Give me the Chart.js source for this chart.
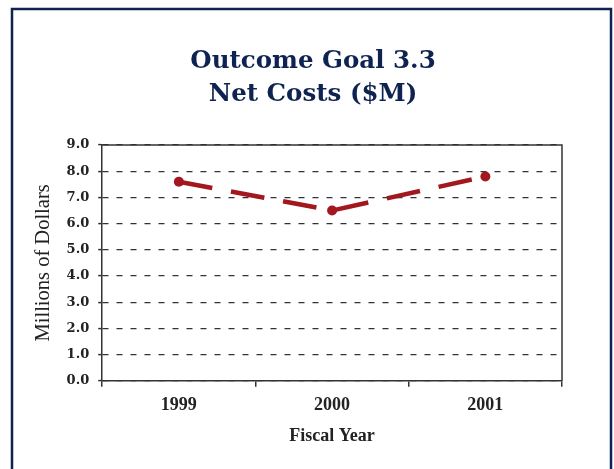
<!DOCTYPE html>
<html>
<head>
<meta charset="utf-8">
<script src="https://cdn.jsdelivr.net/npm/chart.js@4/dist/chart.umd.min.js"></script>
<style>
  html, body { margin: 0; padding: 0; background: #fff; }
  #wrap { width: 614px; height: 469px; }
</style>
</head>
<body>
<div id="wrap"><canvas id="chart" width="614" height="469"></canvas></div>
<script>
// Outcome Goal 3.3 — Net Costs ($M)

const YEARS = ['1999', '2000', '2001'];
const NET_COSTS = [7.6, 6.5, 7.8];
const Y_TICKS = [0, 1, 2, 3, 4, 5, 6, 7, 8, 9];
const TITLE_LINES = ['Outcome Goal 3.3', 'Net Costs ($M)'];

const SERIF = '"Liberation Serif", "Times New Roman", serif';
const WIDE_SERIF = '"DejaVu Serif", "Liberation Serif", serif';
const NAVY = '#0f2352';
const LINE_RED = '#a3171f';
const AXIS_GRAY = '#333333';

// ── Navy frame, centred title, solid top/right plot border ─────────────────────
// (the title sits centred on the page, not on the plot area, so it is drawn here)
const framePlugin = {
  id: 'frame',
  afterDraw(chart) {
    const { ctx, chartArea: a } = chart;
    ctx.save();
    ctx.strokeStyle = NAVY;
    ctx.lineWidth = 2.5;
    ctx.strokeRect(12, 9, 599, 480);

    ctx.fillStyle = NAVY;
    ctx.font = `bold 24.5px ${WIDE_SERIF}`;
    ctx.textAlign = 'center';
    ctx.textBaseline = 'middle';
    TITLE_LINES.forEach((line, i) => ctx.fillText(line, 313, 62 + i * 33));

    ctx.strokeStyle = AXIS_GRAY;
    ctx.lineWidth = 1.5;
    ctx.beginPath();
    ctx.moveTo(a.left, a.top);
    ctx.lineTo(a.right, a.top);
    ctx.lineTo(a.right, a.bottom);
    ctx.stroke();
    ctx.restore();
  },
};

new Chart(document.getElementById('chart'), {
  type: 'line',
  data: {
    labels: YEARS,
    datasets: [{
      data: NET_COSTS,
      borderColor: LINE_RED,
      backgroundColor: LINE_RED,
      borderWidth: 4.5,
      borderDash: [34, 19],
      pointRadius: 5,
      pointBackgroundColor: LINE_RED,
      pointBorderWidth: 0,
      tension: 0,
      fill: false,
    }],
  },
  options: {
    responsive: false,
    animation: false,
    layout: { padding: { top: 145, right: 52, bottom: 22, left: 31 } },
    plugins: {
      legend: { display: false },
      tooltip: { enabled: false },
      title: { display: false },
    },
    scales: {
      x: {
        type: 'category',
        offset: true,
        grid: {
          display: true,
          offset: true,
          drawOnChartArea: false,
          drawTicks: true,
          tickLength: 6,
          color: AXIS_GRAY,
          lineWidth: 1.5,
        },
        border: { display: true, color: AXIS_GRAY, width: 1.5 },
        ticks: {
          color: '#222',
          font: { family: SERIF, size: 18, weight: 'bold' },
          padding: 8,
        },
        title: {
          display: true,
          text: 'Fiscal Year',
          color: '#222',
          font: { family: SERIF, size: 18, weight: 'bold' },
          padding: { top: 1, bottom: 0 },
        },
      },
      y: {
        min: 0,
        max: 9,
        afterBuildTicks: (scale) => { scale.ticks = Y_TICKS.map(v => ({ value: v })); },
        grid: {
          color: AXIS_GRAY,
          lineWidth: 1.2,
          tickBorderDash: [],
          tickLength: 4,
          tickColor: AXIS_GRAY,
          tickWidth: 1.5,
        },
        border: { display: true, color: AXIS_GRAY, width: 1.5, dash: [6, 8] },
        ticks: {
          color: '#222',
          font: { family: WIDE_SERIF, size: 13, weight: 'bold' },
          padding: 9,
          callback: (v) => Number(v).toFixed(1),
        },
        title: {
          display: true,
          text: 'Millions of Dollars',
          color: '#222',
          font: { family: SERIF, size: 20.5 },
          padding: { top: 0, bottom: 2 },
        },
      },
    },
  },
  plugins: [framePlugin],
});
</script>
</body>
</html>
